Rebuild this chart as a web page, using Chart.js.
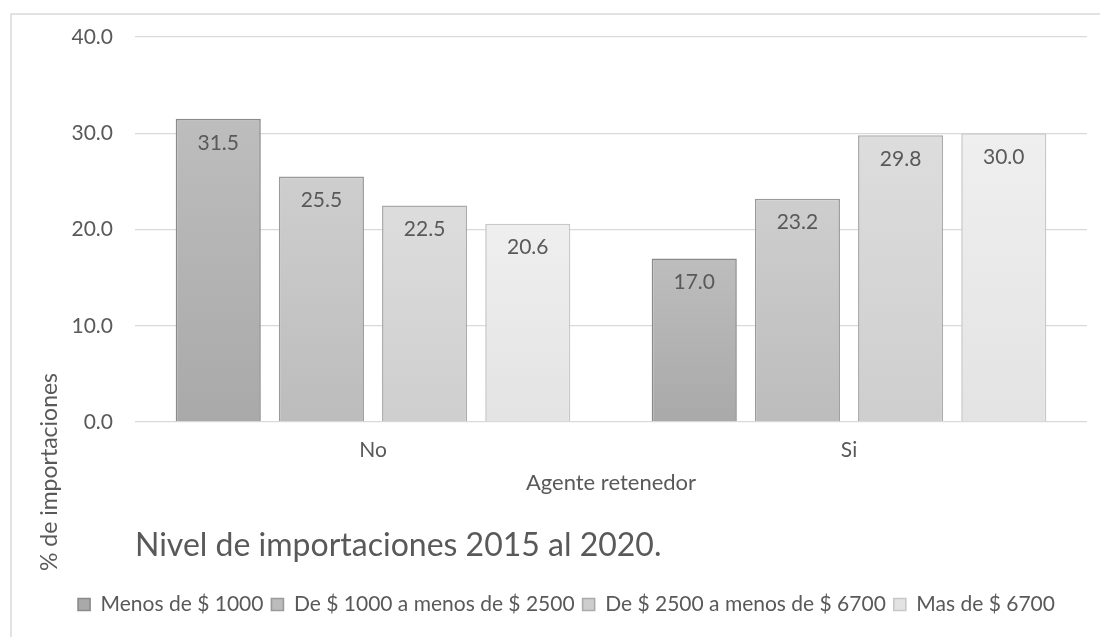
<!DOCTYPE html>
<html>
<head>
<meta charset="utf-8">
<script src="https://cdn.jsdelivr.net/npm/chart.js@4.4.1/dist/chart.umd.min.js"></script>
<style>
  html, body { margin: 0; padding: 0; background: #fff; }
  #wrap { position: relative; width: 1100px; height: 637px; }
</style>
</head>
<body>
<div id="wrap"><canvas id="chart" width="1100" height="637"></canvas></div>
<script>
// Données
const categories = ['No', 'Si'];
const seriesNames = ['Menos de $ 1000', 'De $ 1000 a menos de $ 2500', 'De $ 2500 a menos de $ 6700', 'Mas de $ 6700'];
const menos1000 = [31.5, 17.0];
const de1000a2500 = [25.5, 23.2];
const de2500a6700 = [22.5, 29.8];
const mas6700 = [20.6, 30.0];
const yTicks = [0, 10, 20, 30, 40];

// Couleurs (haut, bas, bordure) pour chaque série
const shades = [
    ['#bdbdbd', '#a9a9a9', '#8a8a8a'],
    ['#cecece', '#bcbcbc', '#9a9a9a'],
    ['#dddddd', '#cecece', '#ababab'],
    ['#efefef', '#e3e3e3', '#c8c8c8']
];

const textColor = '#595959';
const fontFamily = 'Lato, "Open Sans", sans-serif';

// Dégradé vertical pour chaque barre
function barGradient(i) {
    return function (ctx) {
        const chart = ctx.chart;
        if (!chart.chartArea || ctx.raw === undefined) return shades[i][0];
        const y = chart.scales.y;
        const top = y.getPixelForValue(ctx.raw);
        const bottom = y.getPixelForValue(0);
        const g = chart.ctx.createLinearGradient(0, top, 0, bottom);
        g.addColorStop(0, shades[i][0]);
        g.addColorStop(1, shades[i][1]);
        return g;
    };
}

const allSeries = [menos1000, de1000a2500, de2500a6700, mas6700];

// Cadre et titre de l'axe Y
const framePlugin = {
    id: 'frame',
    beforeDraw(chart) {
        const c = chart.ctx;
        c.save();
        c.fillStyle = '#fff';
        c.fillRect(0, 0, chart.width, chart.height);
        c.strokeStyle = '#d9d9d9';
        c.lineWidth = 1.5;
        c.beginPath();
        c.moveTo(11, chart.height);
        c.lineTo(11, 14);
        c.lineTo(chart.width, 14);
        c.stroke();
        c.restore();
    },
    afterDraw(chart) {
        const c = chart.ctx;
        c.save();
        c.translate(50, 472);
        c.rotate(-Math.PI / 2);
        c.font = '23px ' + fontFamily;
        c.fillStyle = textColor;
        c.textAlign = 'center';
        c.textBaseline = 'middle';
        c.fillText('% de importaciones', 0, 0);
        c.restore();
    }
};

// Étiquettes de valeur à l'intérieur des barres
const valueLabels = {
    id: 'valueLabels',
    afterDatasetsDraw(chart) {
        const c = chart.ctx;
        c.save();
        c.font = '21px ' + fontFamily;
        c.fillStyle = textColor;
        c.textAlign = 'center';
        c.textBaseline = 'middle';
        chart.data.datasets.forEach((ds, i) => {
            chart.getDatasetMeta(i).data.forEach((bar, j) => {
                c.fillText(ds.data[j].toFixed(1), bar.x, bar.y + 24);
            });
        });
        c.restore();
    }
};

new Chart(document.getElementById('chart'), {
    type: 'bar',
    data: {
        labels: categories,
        datasets: allSeries.map((vals, i) => ({
            label: seriesNames[i],
            data: vals,
            backgroundColor: barGradient(i),
            borderColor: shades[i][2],
            borderWidth: 1.6,
            borderSkipped: 'bottom',
            categoryPercentage: 0.867,
            barPercentage: 0.825
        }))
    },
    options: {
        responsive: false,
        animation: false,
        layout: { padding: { left: 46, right: 13, top: 37, bottom: 12 } },
        scales: {
            x: {
                grid: { display: false, drawTicks: false },
                border: { display: false },
                ticks: { color: textColor, font: { family: fontFamily, size: 21 }, padding: 16 },
                title: {
                    display: true,
                    text: 'Agente retenedor',
                    color: textColor,
                    font: { family: fontFamily, size: 22 },
                    padding: { top: -9, bottom: 0 }
                }
            },
            y: {
                min: 0,
                max: 40,
                afterBuildTicks(scale) {
                    scale.ticks = yTicks.map(v => ({ value: v }));
                },
                afterFit(scale) { scale.width = 89; },
                grid: { color: '#d9d9d9', lineWidth: 1.3, drawTicks: false },
                border: { display: false },
                ticks: {
                    color: textColor,
                    font: { family: fontFamily, size: 21 },
                    padding: 22,
                    callback: v => v.toFixed(1)
                }
            }
        },
        plugins: {
            title: {
                display: true,
                text: 'Nivel de importaciones 2015 al 2020.',
                position: 'bottom',
                align: 'start',
                fullSize: false,
                weight: 500,
                color: textColor,
                font: { family: fontFamily, size: 32, weight: 'normal' },
                padding: { top: 30, bottom: 21 }
            },
            legend: {
                position: 'bottom',
                labels: {
                    color: textColor,
                    font: { family: fontFamily, size: 21 },
                    boxWidth: 12,
                    boxHeight: 12,
                    padding: 8
                }
            },
            tooltip: { enabled: false }
        }
    },
    plugins: [framePlugin, valueLabels]
});
</script>
</body>
</html>
